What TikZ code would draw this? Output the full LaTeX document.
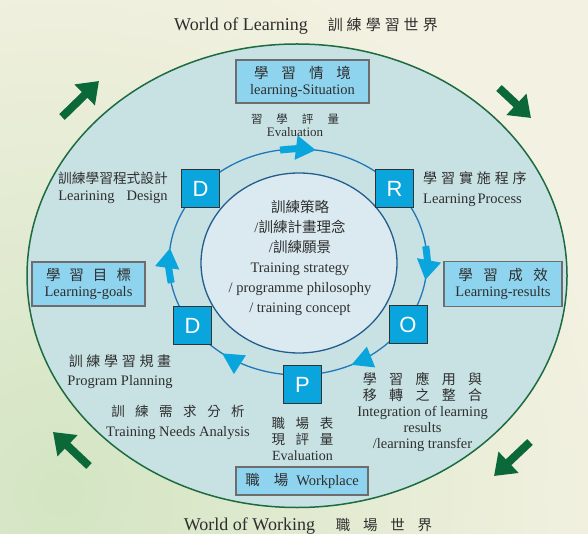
\documentclass[tikz,border=0pt]{standalone}
\usepackage{fontspec}
\setmainfont{Liberation Serif}
\newfontfamily\cjk{Noto Sans CJK TC}
\newfontfamily\lettersf{Liberation Sans}
\usetikzlibrary{arrows.meta}

\definecolor{cream}{HTML}{F3F1E1}
\definecolor{meadow}{HTML}{D3E5C3}
\definecolor{worldfill}{HTML}{C8E2E4}
\definecolor{worldline}{HTML}{1D6B40}
\definecolor{loopline}{HTML}{2177B8}
\definecolor{corefill}{HTML}{DAEAF0}
\definecolor{coreline}{HTML}{235D8D}
\definecolor{stagecyan}{HTML}{0AA5DC}
\definecolor{tagfill}{HTML}{8FD4EF}
\definecolor{tagline}{HTML}{6D6D6D}
\definecolor{bigarrow}{HTML}{0B6839}
\definecolor{ink}{HTML}{2E2E2E}

% spread CJK characters: \spreadcjk{gap}{chars}
\newcommand{\spreadcjk}[2]{\def\spreadcjkgap{#1}\spreadcjkfirst#2\relax}
\def\spreadcjkfirst#1{#1\spreadcjknext}
\def\spreadcjknext#1{\ifx\relax#1\else\hspace{\spreadcjkgap}#1\expandafter\spreadcjknext\fi}

\tikzset{
  world/.style={draw=worldline, line width=1.5pt, fill=worldfill},
  stage/.style={draw=black!80, line width=1pt, fill=stagecyan, text=white,
    minimum size=38pt, inner sep=0pt, font=\lettersf\fontsize{22}{22}\selectfont},
  tag/.style={draw=tagline, line width=1.2pt, fill=tagfill, text=ink, align=center,
    inner sep=0pt, font=\fontsize{14.5}{16}\selectfont},
  caption/.style={text=ink, align=center, inner sep=0pt},
  flow/.style={stagecyan, line width=7pt, -{Triangle[length=20pt, width=23pt]}},
  flowtip/.style={stagecyan, line width=1.2pt, -{Triangle[length=21pt, width=22pt]}},
  worldarrow/.style={bigarrow, line width=8pt, -{Triangle[length=20pt, width=28pt]}},
}

\begin{document}
\begin{tikzpicture}[x=1pt, y=1pt]
  \newcommand{\looprx}{129}
  \newcommand{\loopry}{113}
  \useasboundingbox (0,0) rectangle (588,533);
  \fill[cream] (0,0) rectangle (588,533);
  \begin{scope}
    \clip (0,0) rectangle (588,533);
    \shade[inner color=meadow, outer color=cream] (60,40) circle (560);
  \end{scope}

  % the two worlds
  \draw[world] (297,257.25) ellipse [x radius=270, y radius=231.75];
  \coordinate (loopc) at (298,271);
  \draw[loopline, line width=1.3pt] (loopc) ellipse [x radius=\looprx, y radius=\loopry];
  \draw[coreline, line width=1.3pt, fill=corefill] (299,270) ellipse [x radius=98, y radius=90];

  % flow round the loop
  \draw[flow] ([shift={(loopc)}]98:129 and 113) arc[start angle=98, end angle=82, x radius=\looprx, y radius=\loopry];
  \draw[flow] ([shift={(loopc)}]8.1:129 and 113) arc[start angle=8.1, end angle=-9.2, x radius=\looprx, y radius=\loopry];
  \draw[flowtip] ([shift={(loopc)}]-55:129 and 113) arc[start angle=-55, end angle=-65.5, x radius=\looprx, y radius=\loopry];
  \draw[flowtip] ([shift={(loopc)}]-116:129 and 113) arc[start angle=-116, end angle=-126, x radius=\looprx, y radius=\loopry];
  \draw[flow] ([shift={(loopc)}]190.7:129 and 113) arc[start angle=190.7, end angle=172.9, x radius=\looprx, y radius=\loopry];

  % DRO-P-D stages
  \node[stage] (design) at (200.5,344) {D};
  \node[stage] (run) at (394.5,344) {R};
  \node[stage] (outcome) at (408,208.5) {O};
  \node[stage] (plan) at (302.5,148.5) {P};
  \node[stage] (define) at (192.5,207.5) {D};

  % green arrows outside
  \draw[worldarrow] (62,416) -- (99,452);
  \draw[worldarrow] (499,445) -- (531,415);
  \draw[worldarrow] (530,91) -- (494,57);
  \draw[worldarrow] (89,67) -- (53,101);

  % labels
  \node[caption, anchor=base, font=\fontsize{18}{20}\selectfont] (learnworld) at (306,502.5)
    {World of Learning\hspace{20pt}{\cjk\fontsize{15}{20}\selectfont\spreadcjk{4pt}{訓練學習世界}}};
  \node[tag, minimum width=133pt, minimum height=43pt] (situation) at (302.5,451.5)
    {{\cjk\spreadcjk{13pt}{學習情境}}\\learning-Situation};
  \node[caption, font=\fontsize{13}{12.7}\selectfont] (evaltop) at (295,407.7)
    {{\cjk\fontsize{11.5}{12.7}\selectfont\spreadcjk{14pt}{習學評量}}\\Evaluation};
  \node[caption, font=\fontsize{14.5}{17}\selectfont] (designtext) at (113,345)
    {{\cjk\fontsize{13.7}{17}\selectfont 訓練學習程式設計}\\Learining\hspace{12pt}Design};
  \node[caption, align=left, anchor=west, font=\fontsize{14.5}{20}\selectfont] (runtext) at (423,344)
    {{\cjk\fontsize{14}{20}\selectfont\spreadcjk{3.9pt}{學習實施程序}}\\Learning\hspace{2pt}Process};
  \node[tag, minimum width=113pt, minimum height=44pt] (goals) at (88.5,249)
    {{\cjk\spreadcjk{9pt}{學習目標}}\\Learning-goals};
  \node[tag, minimum width=118pt, minimum height=45pt] (results) at (503,249)
    {{\cjk\spreadcjk{10.5pt}{學習成效}}\\Learning-results};
  \node[caption, font=\fontsize{14.5}{20}\selectfont] (strategy) at (300,275.25)
    {{\cjk 訓練策略}\\/{\cjk 訓練計畫理念}\\/{\cjk 訓練願景}\\Training strategy\\/ programme philosophy\\/ training concept};
  \node[caption, font=\fontsize{14.5}{19}\selectfont] (plantext) at (120,161)
    {{\cjk\fontsize{14}{19}\selectfont\spreadcjk{3.7pt}{訓練學習規畫}}\\Program Planning};
  \node[caption, font=\fontsize{14.5}{19.5}\selectfont] (needs) at (178,110.5)
    {{\cjk\fontsize{13.5}{19.5}\selectfont\spreadcjk{10.5pt}{訓練需求分析}}\\Training Needs Analysis};
  \node[caption, font=\fontsize{14}{16}\selectfont] (evalwork) at (302.5,94.5)
    {{\cjk\fontsize{13.5}{16}\selectfont\spreadcjk{10.7pt}{職場表}}\\{\cjk\fontsize{13.5}{16}\selectfont\spreadcjk{10.7pt}{現評量}}\\Evaluation};
  \node[caption, font=\fontsize{14.5}{16}\selectfont] (transfer) at (422.5,121)
    {{\cjk\fontsize{14}{16}\selectfont\spreadcjk{12.3pt}{學習應用與}}\\{\cjk\fontsize{14}{16}\selectfont\spreadcjk{12.3pt}{移轉之整合}}\\Integration of learning\\results\\/learning transfer};
  \node[tag, minimum width=132pt, minimum height=28pt] (workplace) at (302,52)
    {{\cjk\spreadcjk{14pt}{職場}}\hspace{8pt}Workplace};
  \node[caption, anchor=base, font=\fontsize{18}{20}\selectfont] (workworld) at (308,2.5)
    {World of Working\hspace{21pt}{\cjk\fontsize{14.5}{20}\selectfont\spreadcjk{12.7pt}{職場世界}}};
\end{tikzpicture}
\end{document}
